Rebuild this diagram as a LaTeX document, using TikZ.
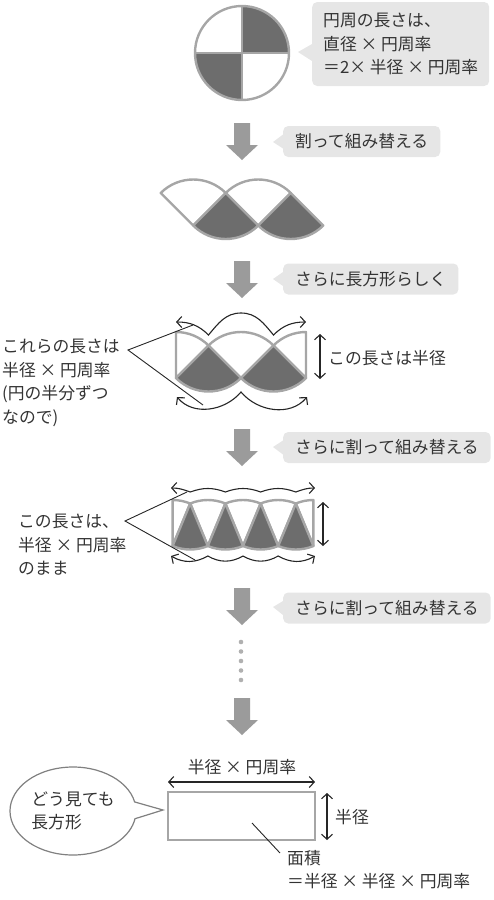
\documentclass[tikz,border=0pt]{standalone}
\usepackage{fontspec}
\setmainfont{Noto Sans CJK JP}
\usetikzlibrary{arrows.meta,shapes.geometric,shapes.callouts}
\definecolor{ink}{HTML}{333333}
\definecolor{arrowgray}{HTML}{9B9B9B}
\definecolor{piecegray}{HTML}{A6A6A6}
\definecolor{piecedark}{HTML}{6D6D6D}
\definecolor{tagfill}{HTML}{E6E6E6}
\definecolor{dotgray}{HTML}{B0B0B0}
\definecolor{bubblegray}{HTML}{808080}

\begin{document}
\begin{tikzpicture}[
  x=1pt, y=1pt,
  font=\fontsize{16.8}{23.5}\selectfont, text=ink,
  whitepiece/.style={draw=piecegray, fill=white, line width=2.4pt, line join=round},
  darkpiece/.style={draw=piecegray, fill=piecedark, line width=2.4pt, line join=round},
  tag/.style={fill=tagfill, rounded corners=5pt, anchor=west, minimum height=31, inner xsep=12, inner ysep=0},
  dimarr/.style={{Straight Barb[length=5pt,width=11pt]}-{Straight Barb[length=5pt,width=11pt]}, line width=1.1pt, black!85},
  leader/.style={line width=0.9pt, black!85},
  txt/.style={align=left, inner sep=0pt},
  downarr/.pic={\fill[arrowgray] (-8,0) -- (8,0) -- (8,-22) -- (16,-22) -- (0,-37) -- (-16,-22) -- (-8,-22) -- cycle;},
]
\useasboundingbox (0,0) rectangle (494,-900);

% the circle, cut in four
\fill[piecedark] (242,-53) -- (242,-6) arc[start angle=90, end angle=0, radius=47] -- cycle;
\fill[piecedark] (242,-53) -- (242,-100) arc[start angle=270, end angle=180, radius=47] -- cycle;
\node[circle, draw=piecegray, line width=2.4pt, minimum size=94, inner sep=0] (disc) at (242,-53) {};
\draw[piecegray, line width=2.4pt] (disc.west) -- (disc.east) (disc.north) -- (disc.south);
\node[tag, anchor=west, align=left, minimum height=84, inner xsep=11] (tag1) at (312,-44)
  {円周の長さは、\\直径 × 円周率\\＝2× 半径 × 円周率};
\fill[tagfill] ([yshift=0]tag1.west) -- (298,-52) -- ([yshift=-17]tag1.west) -- cycle;

\pic at (242,-123) {downarr};
\node[tag] (tag2) at (283,-141.5) {割って組み替える};
\fill[tagfill] ([yshift=7]tag2.west) -- (273,-142) -- ([yshift=-7]tag2.west) -- cycle;

% four quarters side by side
\draw[whitepiece] (193.25,-225.5) -- ++(135:46) arc[start angle=135, end angle=45, radius=46] -- cycle;
\draw[whitepiece] (258.25,-225.5) -- ++(135:46) arc[start angle=135, end angle=45, radius=46] -- cycle;
\draw[darkpiece] (225.75,-193) -- ++(-135:46) arc[start angle=-135, end angle=-45, radius=46] -- cycle;
\draw[darkpiece] (290.75,-193) -- ++(-135:46) arc[start angle=-135, end angle=-45, radius=46] -- cycle;

\pic at (242,-261) {downarr};
\node[tag] (tag3) at (283,-279) {さらに長方形らしく};
\fill[tagfill] ([yshift=7]tag3.west) -- (273,-279) -- ([yshift=-7]tag3.west) -- cycle;

% one white quarter split in two
\draw[whitepiece] (176,-378) -- (176,-332) arc[start angle=90, end angle=45, radius=46] -- cycle;
\draw[whitepiece] (241,-378) -- ++(135:46) arc[start angle=135, end angle=45, radius=46] -- cycle;
\draw[whitepiece] (306,-378) -- ++(135:46) arc[start angle=135, end angle=90, radius=46] -- cycle;
\draw[darkpiece] (208.5,-345.5) -- ++(-135:46) arc[start angle=-135, end angle=-45, radius=46] -- cycle;
\draw[darkpiece] (273.5,-345.5) -- ++(-135:46) arc[start angle=-135, end angle=-45, radius=46] -- cycle;
\draw[dimarr] (176,-322) to[out=0, in=135] (208.5,-335) to[out=50, in=180] (241,-313)
  to[out=0, in=130] (273.5,-335) to[out=45, in=180] (306,-322);
\draw[dimarr] (177,-397) to[out=-50, in=-130] (241,-392) to[out=-50, in=-130] (307,-397);
\draw[dimarr] (320,-334) -- (320,-379);
\node[anchor=west, inner sep=0] (radius3) at (328,-358) {この長さは半径};
\node[txt, anchor=west] (lens3) at (2,-383) {これらの長さは\\半径 × 円周率\\(円の半分ずつ\\なので)};
\coordinate (fork3) at (128,-350);
\coordinate (top3) at (193,-325);
\coordinate (bot3) at (203,-405);
\draw[leader] (top3) -- (fork3) -- (bot3);

\pic at (242,-429) {downarr};
\node[tag] (tag4) at (283,-447.5) {さらに割って組み替える};
\fill[tagfill] ([yshift=7]tag4.west) -- (273,-447) -- ([yshift=-7]tag4.west) -- cycle;

% eighths
\draw[whitepiece] (172.6,-546) -- (172.6,-500) arc[start angle=90, end angle=67.5, radius=46] -- cycle;
\draw[whitepiece] (207.8,-546) -- ++(112.5:46) arc[start angle=112.5, end angle=67.5, radius=46] -- cycle;
\draw[whitepiece] (243,-546) -- ++(112.5:46) arc[start angle=112.5, end angle=67.5, radius=46] -- cycle;
\draw[whitepiece] (278.2,-546) -- ++(112.5:46) arc[start angle=112.5, end angle=67.5, radius=46] -- cycle;
\draw[whitepiece] (313.4,-546) -- ++(112.5:46) arc[start angle=112.5, end angle=90, radius=46] -- cycle;
\draw[darkpiece] (190.2,-503.5) -- ++(-112.5:46) arc[start angle=-112.5, end angle=-67.5, radius=46] -- cycle;
\draw[darkpiece] (225.4,-503.5) -- ++(-112.5:46) arc[start angle=-112.5, end angle=-67.5, radius=46] -- cycle;
\draw[darkpiece] (260.6,-503.5) -- ++(-112.5:46) arc[start angle=-112.5, end angle=-67.5, radius=46] -- cycle;
\draw[darkpiece] (295.8,-503.5) -- ++(-112.5:46) arc[start angle=-112.5, end angle=-67.5, radius=46] -- cycle;
\draw[dimarr] (171,-488) to[out=0, in=160] (190.2,-492) to[out=20, in=160] (225.4,-492)
  to[out=20, in=160] (260.6,-492) to[out=20, in=160] (295.8,-492) to[out=20, in=180] (315,-488);
\draw[dimarr] (171,-556) to[out=-30, in=-150] (207.8,-556) to[out=-30, in=-150] (243,-556)
  to[out=-30, in=-150] (278.2,-556) to[out=-30, in=-150] (315,-556);
\draw[dimarr] (323,-502) -- (323,-546);
\node[txt, anchor=west] (lens4) at (18,-545) {この長さは、\\半径 × 円周率\\のまま};
\coordinate (fork4) at (125,-521);
\coordinate (top4) at (187,-492);
\coordinate (bot4) at (195,-560);
\draw[leader] (top4) -- (fork4) -- (bot4);

\pic at (242,-588) {downarr};
\node[tag] (tag5) at (283,-608) {さらに割って組み替える};
\fill[tagfill] ([yshift=7]tag5.west) -- (273,-607) -- ([yshift=-7]tag5.west) -- cycle;

% and so on
\fill[dotgray] (241,-642) circle[radius=2.3] (241,-651.5) circle[radius=2.3] (241,-661) circle[radius=2.3]
  (241,-670.5) circle[radius=2.3] (241,-680) circle[radius=2.3];

\pic at (242,-698) {downarr};

% the rectangle in the end
\node[draw=piecegray, line width=2.4pt, minimum width=147, minimum height=48, inner sep=0] (result) at (241.5,-816) {};
\draw[dimarr] (168,-782) -- (315,-782);
\node (width) at (242,-767) {半径 × 円周率};
\draw[dimarr] (327,-793) -- (327,-840);
\node[anchor=west, inner sep=0] (height) at (335,-817) {半径};
\coordinate (areapt) at (252,-823);
\coordinate (areaend) at (280,-853);
\draw[leader] (areapt) -- (areaend);
\node[txt, anchor=north west] (area) at (287,-850) {面積\\＝半径 × 半径 × 円周率};
\node[ellipse callout, draw=bubblegray, fill=white, line width=1.2pt, minimum width=126, minimum height=88,
  callout absolute pointer={(163,-810)}, callout pointer arc=22, align=left, inner sep=0] (looks) at (73,-811)
  {どう見ても\\長方形};
\end{tikzpicture}
\end{document}
